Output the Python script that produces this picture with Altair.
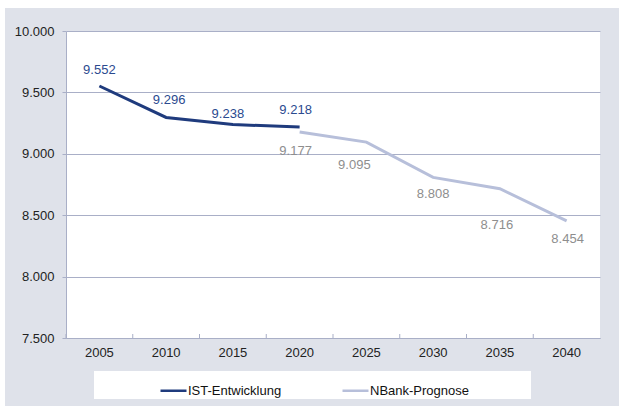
import altair as alt
import pandas as pd

years = ["2005", "2010", "2015", "2020", "2025", "2030", "2035", "2040"]
ist_years = ["2005", "2010", "2015", "2020"]
ist_values = [9552, 9296, 9238, 9218]
prog_years = ["2020", "2025", "2030", "2035", "2040"]
prog_values = [9177, 9095, 8808, 8716, 8454]
series_names = ["IST-Entwicklung", "NBank-Prognose"]
y_ticks = [7500, 8000, 8500, 9000, 9500, 10000]

FONT = "Liberation Sans"
NAVY = "#1f3b7d"
LIGHT = "#b7bfda"
IST_LABEL = "#2b4a8f"
PROG_LABEL = "#8e8e8e"
GRID = "#a9afc7"
BG = "#dfe2ea"

ist = pd.DataFrame({"year": ist_years, "value": ist_values, "series": series_names[0]})
prog = pd.DataFrame({"year": prog_years, "value": prog_values, "series": series_names[1]})
df = pd.concat([ist, prog], ignore_index=True)
ticks_df = pd.DataFrame({"year": years})

x = alt.X("year:O", sort=years, scale=alt.Scale(domain=years, paddingInner=0, paddingOuter=0),
          axis=alt.Axis(title=None, labelAngle=0, labelFont=FONT, labelFontSize=13,
                        labelColor="#222222", labelPadding=8, tickSize=0,
                        domainColor=GRID, domainWidth=1, grid=False))
y = alt.Y("value:Q", scale=alt.Scale(domain=[7500, 10000], nice=False, zero=False),
          axis=alt.Axis(title=None, values=y_ticks, labelFont=FONT, labelFontSize=13,
                        labelColor="#222222", labelPadding=8, tickSize=4, tickColor=GRID,
                        domainColor=GRID, gridColor=GRID, gridWidth=1, gridOpacity=1,
                        labelExpr="replace(format(datum.value, ',.0f'), ',', '.')"))

color = alt.Color("series:N", scale=alt.Scale(domain=series_names, range=[NAVY, LIGHT]),
                  legend=alt.Legend(title=None, orient="none", direction="horizontal",
                                    legendX=93, legendY=345, symbolType="stroke",
                                    symbolSize=676, symbolStrokeWidth=2.5,
                                    labelFont=FONT, labelFontSize=13, labelColor="#111111",
                                    labelOffset=0, columnPadding=55, padding=0))

lines = alt.Chart(df).mark_line(strokeWidth=3).encode(x=x, y=y, color=color, detail="series:N")

# small inward tick marks at category boundaries
xticks = alt.Chart(ticks_df).mark_rule(color=GRID, strokeWidth=1).encode(
    x=alt.X("year:O", sort=years, bandPosition=0),
    y=alt.value(303), y2=alt.value(307))

label_nudge_ist = {"2005": (0, -16), "2010": (3, -17), "2015": (-5, -11), "2020": (-4, -17)}
label_nudge_prog = {"2020": (-4, 19), "2025": (-12, 23), "2030": (0, 17), "2035": (-3, 36), "2040": (1, 18)}

layers = []
# decorative: white strips outside the grey frame and white legend box
layers.append(alt.Chart(df).mark_rect(color="white").encode(
    x=alt.value(-66), x2=alt.value(553), y=alt.value(-31), y2=alt.value(-23)))
layers.append(alt.Chart(df).mark_rect(color="white").encode(
    x=alt.value(-66), x2=alt.value(-61), y=alt.value(-31), y2=alt.value(375)))
layers.append(alt.Chart(df).mark_rect(color="white").encode(
    x=alt.value(28), x2=alt.value(465), y=alt.value(340), y2=alt.value(368)))
layers.append(lines)
layers.append(xticks)

for yr, (dx, dy) in label_nudge_ist.items():
    layers.append(alt.Chart(ist).transform_filter(alt.datum.year == yr).transform_calculate(
        lbl="replace(format(datum.value, ',.0f'), ',', '.')").mark_text(
        font=FONT, fontSize=13, color=IST_LABEL, dx=dx, dy=dy, baseline="middle").encode(
        x=alt.X("year:O", sort=years), y=alt.Y("value:Q"), text="lbl:N"))
for yr, (dx, dy) in label_nudge_prog.items():
    layers.append(alt.Chart(prog).transform_filter(alt.datum.year == yr).transform_calculate(
        lbl="replace(format(datum.value, ',.0f'), ',', '.')").mark_text(
        font=FONT, fontSize=13, color=PROG_LABEL, dx=dx, dy=dy, baseline="middle").encode(
        x=alt.X("year:O", sort=years), y=alt.Y("value:Q"), text="lbl:N"))

chart = alt.layer(*layers).properties(
    width=534, height=307,
    background=BG,
    padding={"left": 66, "top": 31, "right": 19, "bottom": 68},
    autosize=alt.AutoSizeParams(type="none"),
).configure_view(fill="white", stroke=None)

chart.save("out.html", embed_options={"renderer": "svg", "actions": False})
